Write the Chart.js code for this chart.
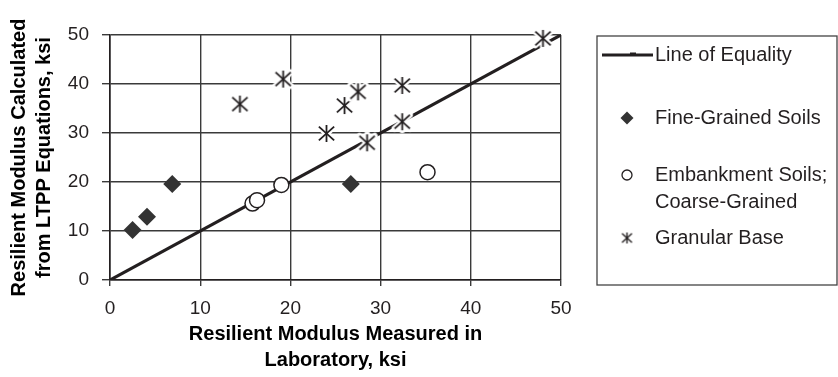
<html>
  <head>
    <title>Resilient modulus: LTPP equations vs laboratory</title>
    <script src="https://cdn.jsdelivr.net/npm/chart.js@4.4.1/dist/chart.umd.min.js"></script>
    <style>
      body { margin: 0; background: #fff; }
      #wrap { width: 838px; height: 377px; }
    </style>
  </head>
  <body>
    <div id="wrap"><canvas id="mr"></canvas></div>
    <script>
      // values (ksi)
      var eqX = [0, 50];
      var eqY = [0, 50];
      var fineX = [2.5, 4.1, 6.9, 26.7];
      var fineY = [10.2, 12.9, 19.6, 19.6];
      var embX = [15.8, 16.3, 19.0, 35.2];
      var embY = [15.6, 16.3, 19.4, 22.0];
      var granX = [14.4, 19.2, 24.0, 26.0, 27.5, 28.5, 32.4, 32.4, 48.0];
      var granY = [35.9, 41.0, 29.9, 35.6, 38.4, 28.0, 39.7, 32.3, 49.3];
      var xTicks = [0, 10, 20, 30, 40, 50];
      var yTicks = [0, 10, 20, 30, 40, 50];

      var ink = '#231f20';
      var grid = '#3a3a3a';
      Chart.defaults.font.family = '"Liberation Sans", Arial, sans-serif';
      Chart.defaults.color = ink;

      function pts(xs, ys) {
        return xs.map(function(x, i) { return {x: x, y: ys[i]}; });
      }

      // asterisk marker (X plus vertical bar) with a white knockout
      function asterisk(r, halo, w) {
        var size = Math.ceil(2 * (r + halo)) + 2;
        var c = document.createElement('canvas');
        c.width = size; c.height = size;
        var g = c.getContext('2d');
        var m = size / 2;
        var arms = [[0, r], [r * 0.9, r * 0.8], [r * 0.9, -r * 0.8]];
        function stroke(lw, col, cap) {
          g.strokeStyle = col; g.lineWidth = lw; g.lineCap = cap;
          arms.forEach(function(a) {
            g.beginPath();
            g.moveTo(m - a[0], m - a[1]);
            g.lineTo(m + a[0], m + a[1]);
            g.stroke();
          });
        }
        if (halo > 0) stroke(halo * 2, '#fff', 'round');
        stroke(w, ink, 'butt');
        return c;
      }

      var legendBox = {
        id: 'legendBox',
        afterDraw: function(chart) {
          var ctx = chart.ctx;
          var ds = chart.data.datasets;
          ctx.save();
          ctx.strokeStyle = '#444';
          ctx.lineWidth = 1.3;
          ctx.strokeRect(597, 36, 240, 249);
          ctx.font = '20px "Liberation Sans", Arial, sans-serif';
          ctx.textBaseline = 'middle';
          var rows = [55, 118, 175, 238];
          var gx = 627, tx = 655;
          // line of equality
          ctx.strokeStyle = ink; ctx.lineWidth = 3;
          ctx.beginPath(); ctx.moveTo(602, rows[0]); ctx.lineTo(653, rows[0]); ctx.stroke();
          ctx.fillStyle = ink; ctx.fillRect(630, rows[0] - 2.5, 6, 2);
          // diamond
          ctx.beginPath();
          ctx.moveTo(gx, rows[1] - 6.5); ctx.lineTo(gx + 6.5, rows[1]);
          ctx.lineTo(gx, rows[1] + 6.5); ctx.lineTo(gx - 6.5, rows[1]); ctx.closePath();
          ctx.fillStyle = '#333'; ctx.fill();
          // circle
          ctx.beginPath(); ctx.arc(gx, rows[2], 5, 0, Math.PI * 2);
          ctx.fillStyle = '#fff'; ctx.fill();
          ctx.strokeStyle = ink; ctx.lineWidth = 1.3; ctx.stroke();
          // asterisk
          var a = asterisk(5.5, 0, 1.4);
          ctx.drawImage(a, gx - a.width / 2, rows[3] - a.height / 2);
          ctx.fillStyle = ink;
          ds.forEach(function(d, i) {
            var parts = d.label.split('; ');
            if (parts.length > 1) {
              ctx.fillText(parts[0] + ';', tx, rows[i]);
              ctx.fillText(parts[1], tx, rows[i] + 27);
            } else {
              ctx.fillText(d.label, tx, rows[i]);
            }
          });
          ctx.restore();
        }
      };

      new Chart('mr', {
        type: 'scatter',
        data: {
          datasets: [
            {
              label: 'Line of Equality',
              type: 'line',
              data: pts(eqX, eqY),
              borderColor: ink,
              borderWidth: 3.2,
              pointRadius: 0,
              order: 4
            },
            {
              label: 'Fine-Grained Soils',
              data: pts(fineX, fineY),
              pointStyle: 'rectRot',
              pointRadius: 9,
              backgroundColor: '#333',
              borderColor: '#333',
              borderWidth: 0,
              order: 3
            },
            {
              label: 'Embankment Soils; Coarse-Grained',
              data: pts(embX, embY),
              pointStyle: 'circle',
              pointRadius: 7.5,
              backgroundColor: '#fff',
              borderColor: ink,
              borderWidth: 1.5,
              order: 2
            },
            {
              label: 'Granular Base',
              data: pts(granX, granY),
              pointStyle: asterisk(8.5, 3, 1.8),
              pointRadius: 10,
              clip: false,
              order: 1
            }
          ]
        },
        options: {
          responsive: true,
          maintainAspectRatio: false,
          animation: false,
          layout: { padding: { left: 0, top: 35, right: 277, bottom: 0 } },
          plugins: { legend: { display: false }, tooltip: { enabled: false } },
          scales: {
            x: {
              type: 'linear',
              min: 0, max: 50,
              afterBuildTicks: function(s) { s.ticks = xTicks.map(function(v) { return {value: v}; }); },
              afterFit: function(s) { s.height = 97; },
              ticks: { font: { size: 19 }, color: ink, padding: 11 },
              grid: { color: grid, lineWidth: 1.4, tickLength: 6 },
              border: { color: ink, width: 1.6 },
              title: {
                display: true,
                text: ['Resilient Modulus Measured in', 'Laboratory, ksi'],
                font: { size: 20, weight: 'bold', lineHeight: 1.3 },
                color: '#000',
                padding: { top: 0, bottom: 4 }
              }
            },
            y: {
              type: 'linear',
              min: 0, max: 50,
              afterBuildTicks: function(s) { s.ticks = yTicks.map(function(v) { return {value: v}; }); },
              afterFit: function(s) { s.width = 110; },
              ticks: { font: { size: 19 }, color: ink, padding: 13 },
              grid: { color: grid, lineWidth: 1.4, tickLength: 8 },
              border: { color: ink, width: 1.6 },
              title: {
                display: true,
                text: ['Resilient Modulus Calculated', 'from LTPP Equations, ksi'],
                font: { size: 20, weight: 'bold', lineHeight: 1.25 },
                color: '#000',
                padding: { top: 7, bottom: 0 }
              }
            }
          }
        },
        plugins: [legendBox]
      });
    </script>
  </body>
</html>
